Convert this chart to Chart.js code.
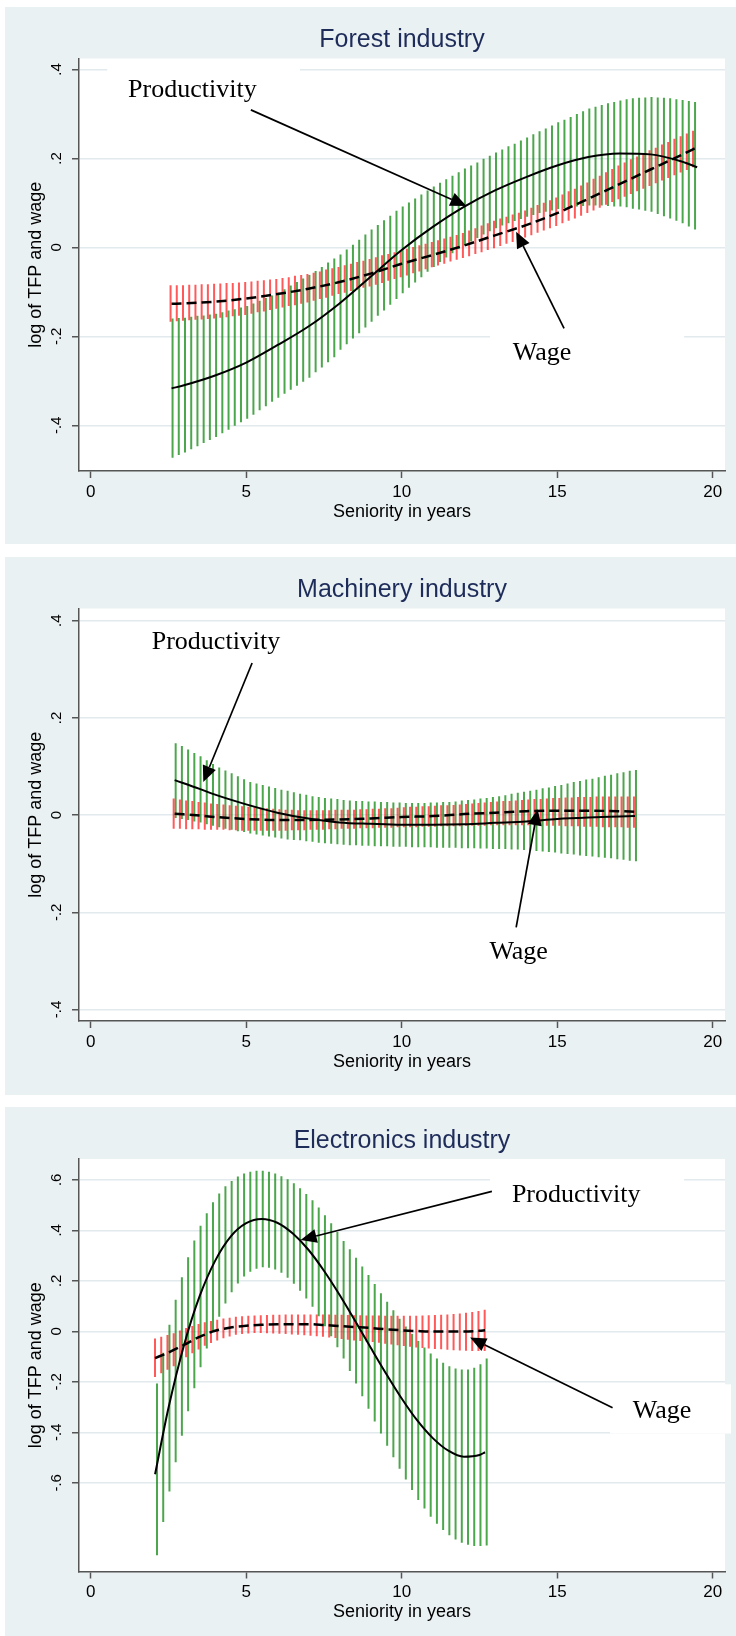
<!DOCTYPE html>
<html>
<head>
<meta charset="utf-8">
<script src="https://cdn.jsdelivr.net/npm/chart.js@4.4.1/dist/chart.umd.min.js"></script>
<style>
  html, body { margin: 0; padding: 0; background: #fff; }
  body { width: 736px; height: 1636px; position: relative; overflow: hidden; }
  .panel { position: absolute; left: 5px; width: 731px; background: #eaf1f3; }
  .panel canvas { display: block; }
</style>
</head>
<body>
<div class="panel" style="top:7px;height:537px"><canvas id="forest" width="731" height="537"></canvas></div>
<div class="panel" style="top:557px;height:538px"><canvas id="machinery" width="731" height="538"></canvas></div>
<div class="panel" style="top:1107px;height:529px"><canvas id="electronics" width="731" height="529"></canvas></div>
<script>
// ---- data ----
const xTicks = [0, 5, 10, 15, 20];

// Forest industry: spikes (95% CI) and fitted lines
const forestX = [
  2.6,2.8,3.0,3.2,3.4,3.6,3.8,4.0,4.2,4.4,
  4.6,4.8,5.0,5.2,5.4,5.6,5.8,6.0,6.2,6.4,
  6.6,6.8,7.0,7.2,7.4,7.6,7.8,8.0,8.2,8.4,
  8.6,8.8,9.0,9.2,9.4,9.6,9.8,10.0,10.2,10.4,
  10.6,10.8,11.0,11.2,11.4,11.6,11.8,12.0,12.2,12.4,
  12.6,12.8,13.0,13.2,13.4,13.6,13.8,14.0,14.2,14.4,
  14.6,14.8,15.0,15.2,15.4,15.6,15.8,16.0,16.2,16.4,
  16.6,16.8,17.0,17.2,17.4,17.6,17.8,18.0,18.2,18.4,
  18.6,18.8,19.0,19.2,19.4];
const forestTfpHi = [
  -0.160,-0.159,-0.158,-0.156,-0.154,-0.153,-0.151,-0.149,-0.146,-0.142,
  -0.139,-0.135,-0.132,-0.126,-0.120,-0.114,-0.108,-0.102,-0.094,-0.086,
  -0.078,-0.070,-0.062,-0.053,-0.044,-0.034,-0.025,-0.016,-0.005,0.006,
  0.017,0.029,0.040,0.050,0.061,0.071,0.082,0.092,0.101,0.110,
  0.119,0.128,0.137,0.145,0.153,0.161,0.169,0.177,0.184,0.191,
  0.199,0.206,0.213,0.220,0.227,0.233,0.240,0.247,0.254,0.261,
  0.267,0.274,0.281,0.287,0.293,0.300,0.306,0.312,0.316,0.320,
  0.324,0.327,0.330,0.333,0.335,0.336,0.337,0.338,0.337,0.336,
  0.335,0.333,0.331,0.329,0.327];
const forestTfpLo = [
  -0.473,-0.467,-0.461,-0.454,-0.447,-0.440,-0.433,-0.426,-0.418,-0.410,
  -0.401,-0.393,-0.385,-0.376,-0.366,-0.357,-0.347,-0.338,-0.329,-0.320,
  -0.311,-0.302,-0.293,-0.281,-0.270,-0.258,-0.247,-0.230,-0.218,-0.205,
  -0.193,-0.180,-0.167,-0.154,-0.142,-0.129,-0.116,-0.103,-0.091,-0.079,
  -0.067,-0.055,-0.044,-0.033,-0.023,-0.013,-0.004,0.005,0.013,0.021,
  0.029,0.036,0.043,0.049,0.054,0.059,0.064,0.069,0.073,0.077,
  0.080,0.083,0.086,0.088,0.090,0.092,0.093,0.094,0.094,0.094,
  0.093,0.092,0.092,0.090,0.087,0.085,0.082,0.080,0.075,0.070,
  0.065,0.060,0.054,0.047,0.040];
const forestWageHi = [
  -0.085,-0.085,-0.085,-0.084,-0.084,-0.083,-0.083,-0.082,-0.081,-0.080,
  -0.080,-0.079,-0.078,-0.077,-0.075,-0.074,-0.072,-0.071,-0.069,-0.067,
  -0.064,-0.062,-0.060,-0.057,-0.054,-0.050,-0.047,-0.044,-0.040,-0.037,
  -0.033,-0.030,-0.026,-0.022,-0.018,-0.015,-0.011,-0.007,-0.003,0.001,
  0.005,0.008,0.012,0.016,0.020,0.024,0.028,0.032,0.038,0.043,
  0.049,0.054,0.060,0.065,0.069,0.074,0.078,0.083,0.089,0.095,
  0.100,0.106,0.112,0.119,0.126,0.132,0.139,0.146,0.154,0.161,
  0.169,0.176,0.184,0.191,0.198,0.204,0.211,0.218,0.224,0.231,
  0.237,0.244,0.250,0.256,0.262];
const forestWageLo = [
  -0.167,-0.166,-0.165,-0.164,-0.163,-0.162,-0.161,-0.160,-0.158,-0.157,
  -0.155,-0.154,-0.152,-0.149,-0.146,-0.144,-0.141,-0.138,-0.135,-0.132,
  -0.130,-0.127,-0.124,-0.120,-0.116,-0.113,-0.109,-0.105,-0.102,-0.098,
  -0.095,-0.091,-0.088,-0.084,-0.080,-0.075,-0.071,-0.067,-0.063,-0.058,
  -0.054,-0.049,-0.045,-0.041,-0.037,-0.032,-0.028,-0.024,-0.020,-0.015,
  -0.011,-0.006,-0.002,0.003,0.008,0.012,0.017,0.022,0.027,0.033,
  0.038,0.043,0.048,0.054,0.060,0.065,0.071,0.077,0.083,0.089,
  0.096,0.102,0.108,0.114,0.120,0.126,0.132,0.138,0.144,0.150,
  0.156,0.162,0.168,0.174,0.180];
const forestLineX = [2.6,3,4,5,6,7,8,9,10,11,12,13,14,15,16,17,18,19,19.5];
const forestTfp = [-0.317,-0.310,-0.288,-0.259,-0.220,-0.178,-0.126,-0.066,-0.006,0.046,0.091,0.128,0.158,0.184,0.203,0.211,0.209,0.193,0.180];
const forestWage = [-0.127,-0.126,-0.122,-0.115,-0.105,-0.093,-0.078,-0.059,-0.037,-0.017,0.004,0.027,0.050,0.077,0.109,0.142,0.175,0.208,0.225];

// Machinery industry
const machX = [
  2.7,2.9,3.1,3.3,3.5,3.7,3.9,4.1,4.3,4.5,
  4.7,4.9,5.1,5.3,5.5,5.7,5.9,6.1,6.3,6.5,
  6.7,6.9,7.1,7.3,7.5,7.7,7.9,8.1,8.3,8.5,
  8.7,8.9,9.1,9.3,9.5,9.7,9.9,10.1,10.3,10.5,
  10.7,10.9,11.1,11.3,11.5,11.7,11.9,12.1,12.3,12.5,
  12.7,12.9,13.1,13.3,13.5,13.7,13.9,14.1,14.3,14.5,
  14.7,14.9,15.1,15.3,15.5,15.7,15.9,16.1,16.3,16.5,
  16.7,16.9,17.1,17.3,17.5];
const machTfpHi = [
  0.148,0.142,0.135,0.128,0.121,0.113,0.105,0.098,0.092,0.086,
  0.080,0.074,0.068,0.065,0.062,0.059,0.056,0.052,0.050,0.047,
  0.044,0.042,0.039,0.037,0.035,0.034,0.033,0.031,0.030,0.029,
  0.029,0.028,0.028,0.027,0.027,0.026,0.026,0.025,0.025,0.025,
  0.025,0.026,0.026,0.027,0.027,0.028,0.030,0.031,0.032,0.034,
  0.035,0.037,0.039,0.041,0.044,0.046,0.048,0.050,0.052,0.055,
  0.057,0.060,0.062,0.065,0.068,0.070,0.073,0.075,0.078,0.081,
  0.083,0.086,0.088,0.091,0.093];
const machTfpLo = [
  -0.006,-0.008,-0.010,-0.013,-0.015,-0.019,-0.022,-0.025,-0.028,-0.030,
  -0.033,-0.035,-0.038,-0.040,-0.042,-0.044,-0.046,-0.048,-0.050,-0.051,
  -0.052,-0.054,-0.055,-0.057,-0.058,-0.059,-0.060,-0.061,-0.062,-0.062,
  -0.063,-0.063,-0.064,-0.064,-0.064,-0.065,-0.065,-0.065,-0.066,-0.066,
  -0.066,-0.066,-0.067,-0.067,-0.067,-0.067,-0.068,-0.068,-0.068,-0.069,
  -0.069,-0.070,-0.070,-0.070,-0.071,-0.071,-0.072,-0.073,-0.074,-0.075,
  -0.076,-0.077,-0.079,-0.080,-0.081,-0.083,-0.084,-0.085,-0.087,-0.088,
  -0.089,-0.091,-0.092,-0.094,-0.095];
const machWageHi = [
  0.034,0.032,0.030,0.029,0.027,0.026,0.024,0.023,0.022,0.020,
  0.019,0.018,0.017,0.016,0.015,0.014,0.013,0.012,0.011,0.011,
  0.010,0.010,0.010,0.010,0.010,0.010,0.011,0.011,0.011,0.011,
  0.012,0.012,0.013,0.013,0.014,0.014,0.015,0.016,0.017,0.017,
  0.018,0.018,0.019,0.020,0.020,0.021,0.022,0.023,0.024,0.025,
  0.026,0.027,0.028,0.029,0.029,0.030,0.031,0.032,0.033,0.033,
  0.034,0.035,0.035,0.036,0.036,0.037,0.037,0.037,0.038,0.038,
  0.038,0.038,0.038,0.038,0.038];
const machWageLo = [
  -0.028,-0.028,-0.029,-0.029,-0.029,-0.030,-0.030,-0.030,-0.030,-0.031,
  -0.031,-0.032,-0.032,-0.032,-0.032,-0.032,-0.032,-0.032,-0.032,-0.031,
  -0.031,-0.031,-0.030,-0.030,-0.030,-0.029,-0.029,-0.028,-0.028,-0.028,
  -0.027,-0.027,-0.027,-0.026,-0.026,-0.026,-0.025,-0.025,-0.025,-0.025,
  -0.024,-0.024,-0.024,-0.023,-0.023,-0.023,-0.023,-0.022,-0.022,-0.022,
  -0.022,-0.021,-0.021,-0.021,-0.021,-0.021,-0.021,-0.021,-0.022,-0.022,
  -0.022,-0.022,-0.022,-0.023,-0.023,-0.023,-0.024,-0.024,-0.024,-0.025,
  -0.025,-0.025,-0.025,-0.026,-0.026];
const machLineX = [2.7,3.5,4,5,6,7,8,9,10,11,12,13,14,15,16,17,17.5];
const machTfp = [0.072,0.054,0.042,0.022,0.005,-0.007,-0.015,-0.018,-0.020,-0.020,-0.019,-0.016,-0.013,-0.008,-0.005,-0.003,-0.002];
const machWage = [0.003,-0.001,-0.004,-0.008,-0.010,-0.010,-0.009,-0.007,-0.004,-0.002,0.002,0.005,0.008,0.009,0.009,0.008,0.007];

// Electronics industry
const elecX = [
  2.1,2.3,2.5,2.7,2.9,3.1,3.3,3.5,3.7,3.9,
  4.1,4.3,4.5,4.7,4.9,5.1,5.3,5.5,5.7,5.9,
  6.1,6.3,6.5,6.7,6.9,7.1,7.3,7.5,7.7,7.9,
  8.1,8.3,8.5,8.7,8.9,9.1,9.3,9.5,9.7,9.9,
  10.1,10.3,10.5,10.7,10.9,11.1,11.3,11.5,11.7,11.9,
  12.1,12.3,12.5,12.7];
const elecTfpHi = [
  -0.207,-0.085,0.026,0.125,0.214,0.293,0.360,0.418,0.468,0.511,
  0.546,0.574,0.595,0.613,0.625,0.632,0.636,0.636,0.632,0.625,
  0.614,0.602,0.586,0.567,0.544,0.519,0.490,0.460,0.428,0.393,
  0.358,0.325,0.291,0.257,0.223,0.187,0.151,0.117,0.083,0.050,
  0.019,-0.011,-0.038,-0.064,-0.088,-0.108,-0.125,-0.138,-0.147,-0.151,
  -0.151,-0.144,-0.130,-0.108];
const elecTfpLo = [
  -0.887,-0.755,-0.634,-0.519,-0.414,-0.317,-0.226,-0.142,-0.068,-0.001,
  0.058,0.110,0.155,0.189,0.217,0.236,0.248,0.254,0.252,0.245,
  0.232,0.212,0.188,0.161,0.130,0.097,0.060,0.020,-0.020,-0.063,
  -0.108,-0.157,-0.207,-0.257,-0.307,-0.357,-0.405,-0.453,-0.499,-0.544,
  -0.587,-0.629,-0.668,-0.702,-0.734,-0.762,-0.787,-0.808,-0.825,-0.837,
  -0.845,-0.850,-0.850,-0.848];
const elecWageHi = [
  -0.029,-0.022,-0.015,-0.008,0.003,0.013,0.021,0.029,0.036,0.041,
  0.046,0.051,0.054,0.058,0.060,0.062,0.063,0.064,0.065,0.066,
  0.066,0.067,0.067,0.067,0.067,0.067,0.067,0.067,0.067,0.066,
  0.066,0.065,0.064,0.064,0.063,0.063,0.063,0.062,0.062,0.062,
  0.062,0.062,0.062,0.063,0.064,0.065,0.066,0.067,0.069,0.071,
  0.073,0.076,0.080,0.085];
const elecWageLo = [
  -0.181,-0.166,-0.152,-0.138,-0.120,-0.103,-0.087,-0.072,-0.057,-0.046,
  -0.036,-0.028,-0.021,-0.014,-0.011,-0.009,-0.007,-0.007,-0.008,-0.009,
  -0.010,-0.011,-0.013,-0.014,-0.016,-0.018,-0.020,-0.022,-0.025,-0.027,
  -0.030,-0.033,-0.036,-0.038,-0.040,-0.042,-0.045,-0.049,-0.052,-0.055,
  -0.058,-0.061,-0.064,-0.066,-0.068,-0.070,-0.071,-0.073,-0.075,-0.076,
  -0.077,-0.078,-0.078,-0.078];
const elecLineX = [2.07,2.5,3,3.5,4,4.5,5,5.5,6,6.5,7,7.5,8,8.5,9,9.5,10,10.5,11,11.5,12,12.5,12.68];
const elecTfp = [-0.566,-0.304,-0.055,0.138,0.279,0.375,0.428,0.445,0.430,0.387,0.323,0.240,0.145,0.042,-0.064,-0.168,-0.266,-0.353,-0.423,-0.473,-0.497,-0.490,-0.479];
const elecWage = [-0.106,-0.084,-0.054,-0.022,0.002,0.015,0.022,0.026,0.028,0.028,0.028,0.025,0.021,0.017,0.013,0.008,0.004,0.001,-0.001,-0.001,-0.001,0.002,0.004];

// ---- styling ----
const SANS = '"Liberation Sans", Arial, sans-serif';
const SERIF = '"Liberation Serif", "Times New Roman", serif';
const GRID = '#e2eaee';
const AXIS = '#555';
const GREEN = 'rgba(0,128,0,0.7)';
const RED = 'rgba(255,0,0,0.65)';

const toPts = (xs, ys) => xs.map((x, i) => ({ x: x, y: ys[i] }));
const toSpikes = (xs, lo, hi) => xs.map((x, i) => ({ x: x, y: [lo[i], hi[i]] }));
const fmtY = (v) => v === 0 ? '0' : (v < 0 ? '-' : '') + String(Math.abs(v)).replace(/^0/, '');

function drawArrow(ctx, x1, y1, x2, y2) {
    const a = Math.atan2(y2 - y1, x2 - x1);
    const len = 16, half = 7;
    const bx = x2 - len * Math.cos(a), by = y2 - len * Math.sin(a);
    ctx.beginPath();
    ctx.moveTo(x1, y1);
    ctx.lineTo(bx, by);
    ctx.stroke();
    ctx.beginPath();
    ctx.moveTo(x2, y2);
    ctx.lineTo(bx + half * Math.sin(a), by - half * Math.cos(a));
    ctx.lineTo(bx - half * Math.sin(a), by + half * Math.cos(a));
    ctx.closePath();
    ctx.fill();
}

// white plot region, titles, rotated y labels and the text/arrow annotations
const stataText = {
    id: 'stataText',
    beforeDraw(chart) {
        const { ctx, chartArea: area } = chart;
        ctx.save();
        ctx.fillStyle = '#fff';
        ctx.fillRect(area.left, area.top, area.right - area.left, area.bottom - area.top);
        ctx.restore();
    },
    beforeDatasetsDraw(chart, args, opts) {
        const { ctx, scales: { x, y } } = chart;
        ctx.save();
        ctx.fillStyle = '#fff';
        opts.boxes.forEach((b) => {
            const x0 = x.getPixelForValue(b[0]), x1 = x.getPixelForValue(b[1]);
            const y0 = y.getPixelForValue(b[2]), y1 = y.getPixelForValue(b[3]);
            ctx.fillRect(x0, y0, x1 - x0, y1 - y0);
        });
        ctx.restore();
    },
    afterDraw(chart, args, opts) {
        const { ctx, chartArea: area, scales: { x, y } } = chart;
        const cx = (area.left + area.right) / 2;
        ctx.save();
        ctx.textAlign = 'center';
        ctx.textBaseline = 'middle';

        ctx.fillStyle = '#1e2c5a';
        ctx.font = '25px ' + SANS;
        ctx.fillText(opts.title, cx, opts.titleY);

        ctx.fillStyle = '#000';
        ctx.font = '18px ' + SANS;
        ctx.fillText('Seniority in years', cx, area.bottom + 41);
        ctx.save();
        ctx.translate(31, (area.top + area.bottom) / 2);
        ctx.rotate(-Math.PI / 2);
        ctx.fillText('log of TFP and wage', 0, 0);
        ctx.restore();

        ctx.font = '15px ' + SANS;
        y.ticks.forEach((t) => {
            ctx.save();
            ctx.translate(area.left - 22, y.getPixelForValue(t.value));
            ctx.rotate(-Math.PI / 2);
            ctx.fillText(fmtY(t.value), 0, 0);
            ctx.restore();
        });

        ctx.strokeStyle = '#000';
        ctx.lineWidth = 1.7;
        opts.arrows.forEach((a) => {
            drawArrow(ctx, x.getPixelForValue(a[0]), y.getPixelForValue(a[1]),
                x.getPixelForValue(a[2]), y.getPixelForValue(a[3]));
        });

        ctx.font = '26px ' + SERIF;
        ctx.textBaseline = 'alphabetic';
        opts.labels.forEach((l) => {
            ctx.fillText(l[0], x.getPixelForValue(l[1]), y.getPixelForValue(l[2]));
        });
        ctx.restore();
    },
};

const makePanel = (canvasId, p) => {
    const ctx = document.getElementById(canvasId);

    new Chart(ctx, {
        type: 'bar',
        data: {
            datasets: [
                {
                    type: 'line',
                    label: 'Productivity',
                    data: toPts(p.lineX, p.tfp),
                    borderColor: '#000',
                    borderWidth: 2,
                    pointRadius: 0,
                    cubicInterpolationMode: 'monotone',
                    order: 0,
                },
                {
                    type: 'line',
                    label: 'Wage',
                    data: toPts(p.lineX, p.wage),
                    borderColor: '#000',
                    borderWidth: 2.5,
                    borderDash: [10, 5],
                    pointRadius: 0,
                    cubicInterpolationMode: 'monotone',
                    order: 0,
                },
                {
                    label: 'TFP interval',
                    data: toSpikes(p.x, p.tfpLo, p.tfpHi),
                    backgroundColor: GREEN,
                    barThickness: 2,
                    inflateAmount: 0,
                    order: 2,
                },
                {
                    label: 'Wage interval',
                    data: toSpikes(p.x, p.wageLo, p.wageHi),
                    backgroundColor: RED,
                    barThickness: 2,
                    inflateAmount: 0,
                    order: 1,
                },
            ],
        },
        options: {
            responsive: false,
            devicePixelRatio: 1,
            animation: false,
            layout: { padding: { top: p.padTop, right: 11, left: 0, bottom: 0 } },
            scales: {
                x: {
                    type: 'linear',
                    min: -0.376,
                    max: 20.395,
                    offset: false,
                    afterBuildTicks: (s) => { s.ticks = xTicks.map((v) => ({ value: v })); },
                    afterFit: (s) => { s.height = p.xAxisHeight; },
                    grid: { display: true, drawOnChartArea: false, offset: false, tickLength: 7, tickColor: AXIS, tickWidth: 1.5 },
                    border: { display: true, color: AXIS, width: 1.5 },
                    ticks: { color: '#000', font: { family: SANS, size: 17 }, padding: 4, maxRotation: 0, autoSkip: false, callback: (v) => String(v) },
                },
                y: {
                    type: 'linear',
                    min: p.yMin,
                    max: p.yMax,
                    afterBuildTicks: (s) => { s.ticks = p.yTicks.map((v) => ({ value: v })); },
                    afterFit: (s) => { s.width = 74; },
                    grid: { color: GRID, lineWidth: 1.5, tickLength: 7, tickColor: AXIS, tickWidth: 1.5 },
                    border: { display: true, color: AXIS, width: 1.5 },
                    ticks: { display: false },
                },
            },
            plugins: {
                legend: { display: false },
                tooltip: { enabled: false },
                stataText: { title: p.title, titleY: p.titleY, boxes: p.boxes, arrows: p.arrows, labels: p.labels },
            },
        },
        plugins: [stataText],
    });
};

makePanel('forest', {
    title: 'Forest industry', titleY: 33, padTop: 51.5, xAxisHeight: 73,
    yMin: -0.5027, yMax: 0.4245, yTicks: [-0.4, -0.2, 0, 0.2, 0.4],
    x: forestX, tfpLo: forestTfpLo, tfpHi: forestTfpHi, wageLo: forestWageLo, wageHi: forestWageHi,
    lineX: forestLineX, tfp: forestTfp, wage: forestWage,
    boxes: [[0.53, 6.73, 0.42, 0.31], [12.84, 19.08, -0.175, -0.31]],
    arrows: [[5.15, 0.309, 12.08, 0.093], [15.22, -0.182, 13.68, 0.035]],
    labels: [['Productivity', 3.27, 0.337], ['Wage', 14.51, -0.253]],
});

makePanel('machinery', {
    title: 'Machinery industry', titleY: 33, padTop: 51.5, xAxisHeight: 74,
    yMin: -0.4237, yMax: 0.4251, yTicks: [-0.4, -0.2, 0, 0.2, 0.4],
    x: machX, tfpLo: machTfpLo, tfpHi: machTfpHi, wageLo: machWageLo, wageHi: machWageHi,
    lineX: machLineX, tfp: machTfp, wage: machWage,
    boxes: [],
    arrows: [[5.19, 0.313, 3.62, 0.068], [13.68, -0.231, 14.37, 0.012]],
    labels: [['Productivity', 4.03, 0.342], ['Wage', 13.76, -0.296]],
});

makePanel('electronics', {
    title: 'Electronics industry', titleY: 34.5, padTop: 52, xAxisHeight: 64.5,
    yMin: -0.9513, yMax: 0.6824, yTicks: [-0.6, -0.4, -0.2, 0, 0.2, 0.4, 0.6],
    x: elecX, tfpLo: elecTfpLo, tfpHi: elecTfpHi, wageLo: elecWageLo, wageHi: elecWageHi,
    lineX: elecLineX, tfp: elecTfp, wage: elecWage,
    boxes: [[12.84, 19.08, 0.66, 0.47], [16.70, 20.59, -0.21, -0.405]],
    arrows: [[12.90, 0.554, 6.75, 0.362], [16.78, -0.303, 12.2, -0.025]],
    labels: [['Productivity', 15.61, 0.511], ['Wage', 18.37, -0.342]],
});
</script>
</body>
</html>
